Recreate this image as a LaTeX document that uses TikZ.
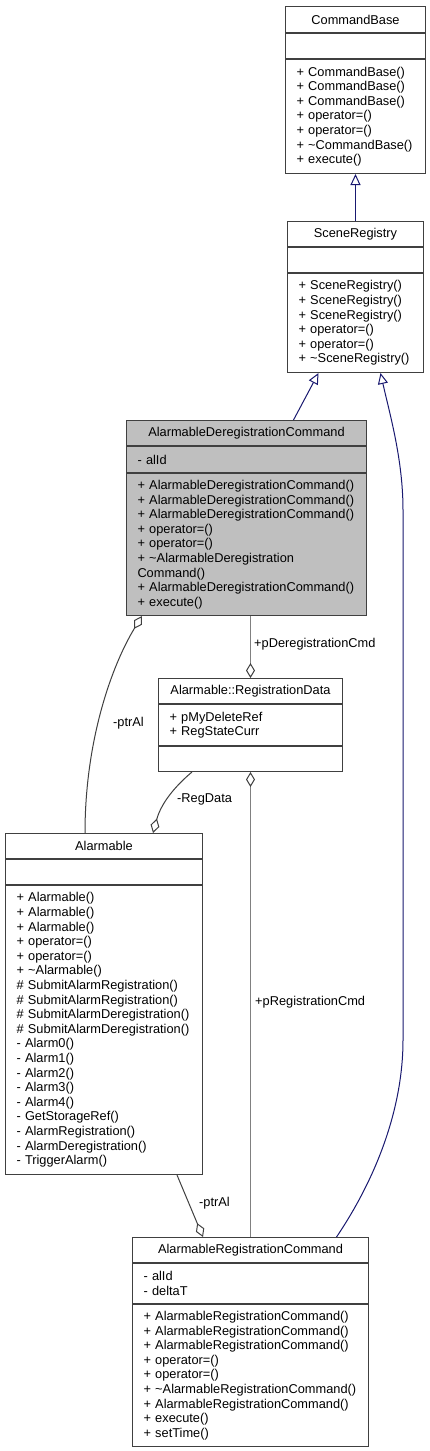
\documentclass[tikz,border=0pt]{standalone}
\usepackage{fontspec}
\setmainfont{Liberation Sans}
\usetikzlibrary{arrows.meta,calc}
\definecolor{bordc}{RGB}{64,64,64}
\definecolor{inhc}{RGB}{25,25,112}
\definecolor{aggc}{RGB}{64,64,64}
\definecolor{aggl}{RGB}{128,128,128}
\definecolor{curfill}{RGB}{191,191,191}
\newcommand\dfont{\fontsize{12.8pt}{14.6pt}\selectfont}
\newcommand\tildech{\textasciitilde}
\begin{document}
\begin{tikzpicture}[x=1pt,y=-1pt,
  box/.style={draw=bordc, line width=1pt, fill=white, inner sep=0pt, anchor=north west, font=\dfont},
  hdr/.style={box, minimum width=#1, align=center},
  cmp/.style={box, text width=#1, inner xsep=11pt, align=left},
  cur/.style={fill=curfill},
  lbl/.style={font=\dfont, inner sep=0pt, anchor=west},
  inh/.style={draw=inhc, line width=1pt, -{Triangle[open,length=11pt,width=10pt]}},
  dtip/.tip={Diamond[open,length=15pt,width=9pt,line width=1pt,color=aggc]},
  agg/.style={draw=aggc, line width=1pt},
  aggthick/.style={draw=aggl, line width=1.6pt}
]
\fill[white] (0,0) rectangle (430,1451);
\useasboundingbox (0,0) rectangle (430,1451);

% CommandBase
\node[hdr=140pt, minimum height=26pt] (cb-h) at (285,6) {CommandBase};
\node[cmp=118pt, minimum height=25pt] (cb-a) at (cb-h.south west) {};
\node[cmp=118pt, minimum height=114pt] (cb-m) at (cb-a.south west) {+~CommandBase()\\+~CommandBase()\\+~CommandBase()\\+~operator=()\\+~operator=()\\+~\tildech CommandBase()\\+~execute()};

% SceneRegistry
\node[hdr=136pt, minimum height=25pt] (sr-h) at (287,221) {SceneRegistry};
\node[cmp=114pt, minimum height=25pt] (sr-a) at (sr-h.south west) {};
\node[cmp=114pt, minimum height=99pt] (sr-m) at (sr-a.south west) {+~SceneRegistry()\\+~SceneRegistry()\\+~SceneRegistry()\\+~operator=()\\+~operator=()\\+~\tildech SceneRegistry()};

% AlarmableDeregistrationCommand
\node[hdr=240pt, cur, minimum height=25pt] (adc-h) at (126,420) {AlarmableDeregistrationCommand};
\node[cmp=218pt, cur, minimum height=26pt] (adc-a) at (adc-h.south west) {-~alId};
\node[cmp=218pt, cur, minimum height=142pt] (adc-m) at (adc-a.south west) {+~AlarmableDeregistrationCommand()\\+~AlarmableDeregistrationCommand()\\+~AlarmableDeregistrationCommand()\\+~operator=()\\+~operator=()\\+~\tildech AlarmableDeregistration\\Command()\\+~AlarmableDeregistrationCommand()\\+~execute()};

% Alarmable::RegistrationData
\node[hdr=184pt, minimum height=25pt] (rd-h) at (158,678) {Alarmable::RegistrationData};
\node[cmp=162pt, minimum height=41pt] (rd-a) at (rd-h.south west) {+~pMyDeleteRef\\+~RegStateCurr};
\node[cmp=162pt, minimum height=25pt] (rd-m) at (rd-a.south west) {};

% Alarmable
\node[hdr=197pt, minimum height=25pt] (al-h) at (5,833) {Alarmable};
\node[cmp=175pt, minimum height=25pt] (al-a) at (al-h.south west) {};
\node[cmp=175pt, minimum height=289pt] (al-m) at (al-a.south west) {+~Alarmable()\\+~Alarmable()\\+~Alarmable()\\+~operator=()\\+~operator=()\\+~\tildech Alarmable()\\\#~SubmitAlarmRegistration()\\\#~SubmitAlarmRegistration()\\\#~SubmitAlarmDeregistration()\\\#~SubmitAlarmDeregistration()\\-~Alarm0()\\-~Alarm1()\\-~Alarm2()\\-~Alarm3()\\-~Alarm4()\\-~GetStorageRef()\\-~AlarmRegistration()\\-~AlarmDeregistration()\\-~TriggerAlarm()};

% AlarmableRegistrationCommand
\node[hdr=236pt, minimum height=25pt] (arc-h) at (132,1237) {AlarmableRegistrationCommand};
\node[cmp=214pt, minimum height=40pt] (arc-a) at (arc-h.south west) {-~alId\\-~deltaT};
\node[cmp=214pt, minimum height=142pt] (arc-m) at (arc-a.south west) {+~AlarmableRegistrationCommand()\\+~AlarmableRegistrationCommand()\\+~AlarmableRegistrationCommand()\\+~operator=()\\+~operator=()\\+~\tildech AlarmableRegistrationCommand()\\+~AlarmableRegistrationCommand()\\+~execute()\\+~setTime()};

% inheritance
\draw[inh] (sr-h.north) -- (cb-m.south);
\draw[inh] ([xshift=47pt]adc-h.north) -- ([xshift=-37pt]sr-m.south);
\draw[inh] ([xshift=86pt]arc-h.north) .. controls (375,1180) and (403,1110) .. (403,1040) -- (403,510) .. controls (403,460) and (390,415) .. ([xshift=25pt]sr-m.south);

% aggregations
\draw[aggthick, {dtip}-] (rd-h.north) -- (adc-m.south -| rd-h.north);
\node[lbl] (l-pdc) at (254,644) {+pDeregistrationCmd};

\draw[agg, -{dtip}] ([xshift=80pt]al-h.north west) .. controls (85,740) and (112,665) .. ([xshift=16pt]adc-m.south west);
\node[lbl] (l-ptr1) at (113,723) {-ptrAl};

\draw[agg, -{dtip}] ([xshift=34pt]rd-m.south west) .. controls (180,782) and (162,800) .. ([xshift=148pt]al-h.north west);
\node[lbl] (l-reg) at (177,799) {-RegData};

\draw[aggthick, {dtip}-] (rd-m.south) -- (arc-h.north);
\node[lbl] (l-prc) at (255,1002) {+pRegistrationCmd};

\draw[agg, -{dtip}] ([xshift=172pt]al-m.south west) -- ([xshift=71pt]arc-h.north west);
\node[lbl] (l-ptr2) at (199,1203) {-ptrAl};
\end{tikzpicture}
\end{document}
